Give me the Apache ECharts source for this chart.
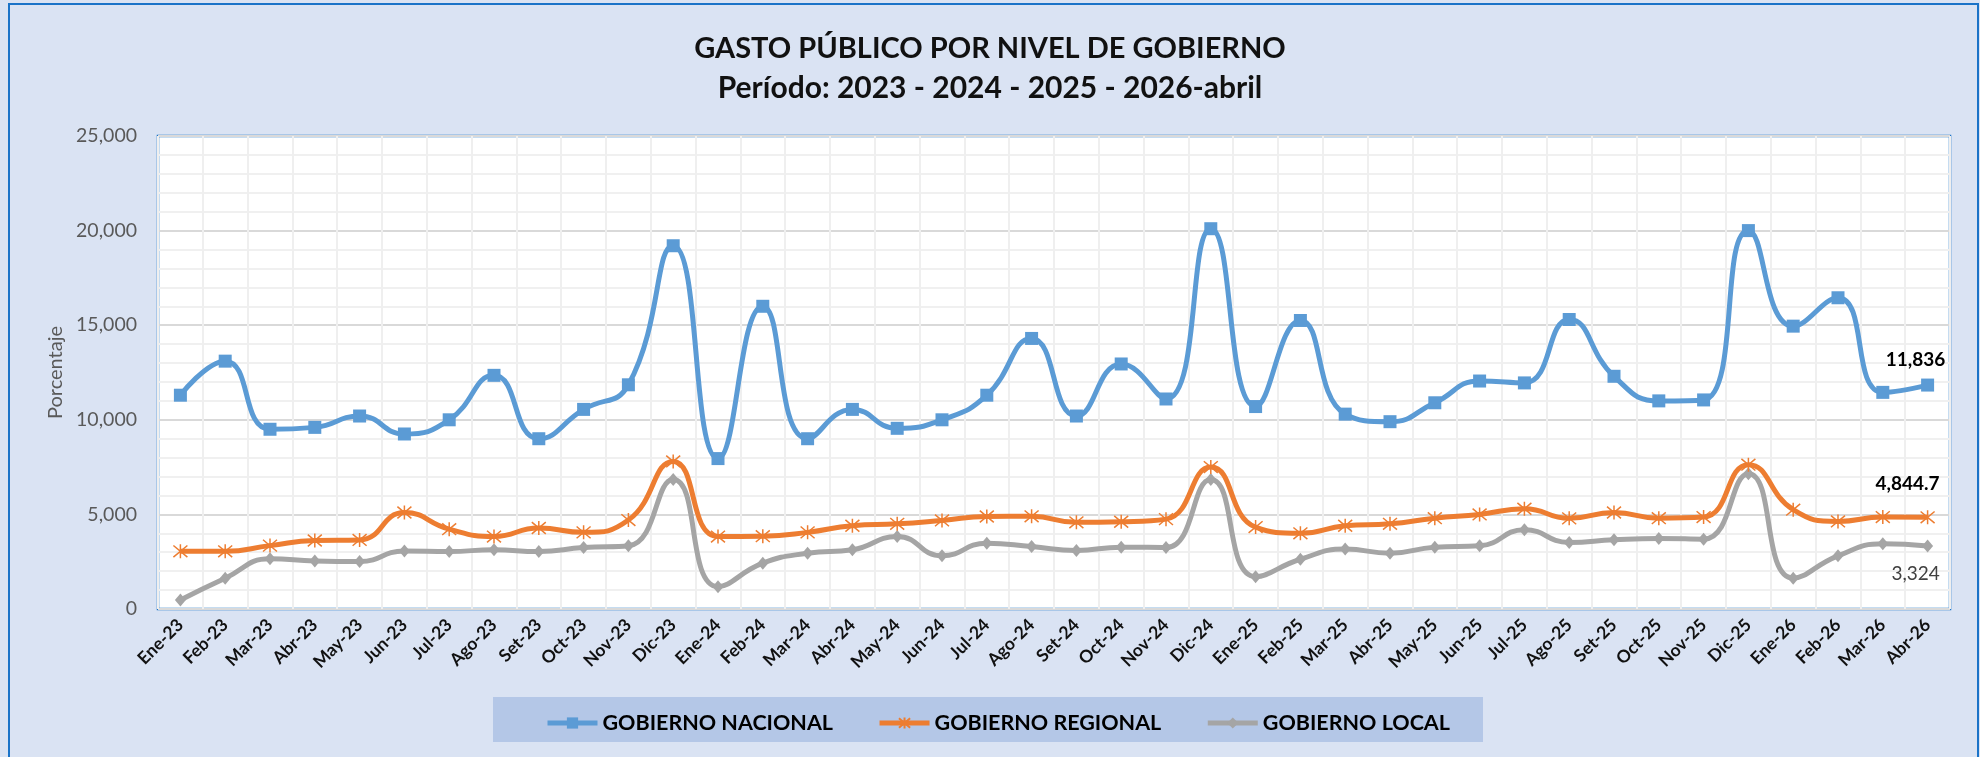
<!DOCTYPE html>
<html>
<head>
<meta charset="utf-8">
<script src="https://cdn.jsdelivr.net/npm/echarts@6/dist/echarts.min.js"></script>
<style>
html,body{margin:0;padding:0;background:#DAE3F3;}
#chart{width:1980px;height:757px;}
</style>
</head>
<body>
<div id="chart"></div>
<script>
const categories = ['Ene-23','Feb-23','Mar-23','Abr-23','May-23','Jun-23','Jul-23','Ago-23','Set-23','Oct-23','Nov-23','Dic-23',
  'Ene-24','Feb-24','Mar-24','Abr-24','May-24','Jun-24','Jul-24','Ago-24','Set-24','Oct-24','Nov-24','Dic-24',
  'Ene-25','Feb-25','Mar-25','Abr-25','May-25','Jun-25','Jul-25','Ago-25','Set-25','Oct-25','Nov-25','Dic-25',
  'Ene-26','Feb-26','Mar-26','Abr-26'];
const nacional = [11300,13100,9500,9600,10200,9250,10000,12350,9000,10550,11850,19200,
  7950,16000,9000,10550,9550,10000,11300,14300,10200,12950,11100,20100,
  10700,15250,10300,9900,10900,12050,11950,15300,12300,11000,11050,20000,
  14950,16450,11450,11836];
const regional = [3050,3050,3350,3620,3650,5100,4220,3830,4280,4050,4700,7800,
  3830,3850,4050,4400,4500,4680,4890,4900,4580,4610,4750,7500,
  4330,4000,4400,4500,4800,5000,5300,4790,5100,4800,4860,7630,
  5250,4630,4860,4844.7];
const local = [480,1630,2650,2540,2510,3070,3040,3130,3040,3250,3340,6840,
  1180,2420,2950,3130,3830,2810,3480,3300,3090,3270,3250,6840,
  1710,2630,3170,2950,3270,3340,4190,3520,3660,3730,3690,7150,
  1630,2810,3450,3324];
const seriesNames = ['GOBIERNO NACIONAL','GOBIERNO REGIONAL','GOBIERNO LOCAL'];
const lastLabels = ['11,836','4,844.7','3,324'];

const FONT = 'Lato';
const fmt = v => v.toString().replace(/\B(?=(\d{3})+(?!\d))/g, ',');

function withLast(arr, labelCfg) {
  return arr.map((v, i) => i === arr.length - 1 ? {value: v, label: labelCfg} : v);
}

const chart = echarts.init(document.getElementById('chart'));
const option = {
  backgroundColor: '#DAE3F3',
  animation: false,
  textStyle: {fontFamily: FONT},
  title: [{
    text: 'GASTO PÚBLICO POR NIVEL DE GOBIERNO',
    left: 'center', top: 29,
    textStyle: {fontFamily: FONT, fontWeight: 'bold', fontSize: 29, color: '#111'}
  }, {
    text: 'Período: 2023 - 2024 - 2025 - 2026-abril',
    left: 'center', top: 68,
    textStyle: {fontFamily: FONT, fontWeight: 'bold', fontSize: 30, color: '#111'}
  }],
  graphic: [{
    type: 'rect', z: -10,
    shape: {x: 9, y: 4, width: 1969, height: 770},
    style: {fill: 'none', stroke: '#1A73C8', lineWidth: 2}
  }, {
    type: 'rect', z: -5,
    shape: {x: 493, y: 697, width: 990, height: 45},
    style: {fill: '#B4C7E7', stroke: null}
  }],
  legend: {
    left: 540, top: 707,
    itemWidth: 50, itemHeight: 14, itemGap: 44,
    lineStyle: {width: 5},
    textStyle: {fontFamily: FONT, fontWeight: 'bold', fontSize: 21.5, color: '#000'},
    data: seriesNames
  },
  grid: {
    left: 158, right: 30, top: 136, bottom: 148,
    show: true, backgroundColor: '#FFFFFF', borderColor: '#1A73C8', borderWidth: 2.5,
    containLabel: false
  },
  xAxis: {
    type: 'category', data: categories, boundaryGap: true,
    axisLine: {show: false}, axisTick: {show: false},
    splitLine: {show: true, interval: 0, lineStyle: {color: '#EFEFEF', width: 2}},
    axisLabel: {rotate: 45, interval: 0, margin: 13, fontFamily: FONT, fontWeight: 'bold', fontSize: 17.5, color: '#111'}
  },
  yAxis: {
    type: 'value', min: 0, max: 25000, interval: 5000,
    name: 'Porcentaje', nameLocation: 'middle', nameRotate: 90, nameGap: 92,
    nameTextStyle: {fontFamily: FONT, fontSize: 20, color: '#595959'},
    axisLine: {show: false}, axisTick: {show: false},
    axisLabel: {margin: 21, fontFamily: FONT, fontSize: 19.5, color: '#595959', formatter: v => fmt(v)},
    splitLine: {show: true, lineStyle: {color: '#D9D9D9', width: 2}},
    minorTick: {show: false, splitNumber: 5},
    minorSplitLine: {show: true, lineStyle: {color: '#F0F0F0', width: 2}}
  },
  series: [{
    name: seriesNames[0], type: 'line', smooth: 0.5,
    data: withLast(nacional, {show: true, position: 'top', distance: 12, offset: [-12, 3], formatter: lastLabels[0], fontFamily: FONT, fontWeight: 'bold', fontSize: 19, color: '#000'}),
    symbol: 'rect', symbolSize: 13,
    lineStyle: {color: '#5B9BD5', width: 5},
    itemStyle: {color: '#5B9BD5'},
    z: 4
  }, {
    name: seriesNames[1], type: 'line', smooth: 0.5,
    data: withLast(regional, {show: true, position: 'top', distance: 18, offset: [-20, 2], formatter: lastLabels[1], fontFamily: FONT, fontWeight: 'bold', fontSize: 19, color: '#000'}),
    symbol: 'path://M0,0L10,10M10,0L0,10M5,-1L5,11', symbolSize: [14, 14],
    lineStyle: {color: '#ED7D31', width: 5},
    itemStyle: {color: '#ED7D31', borderColor: '#ED7D31', borderWidth: 1.5},
    z: 3
  }, {
    name: seriesNames[2], type: 'line', smooth: 0.5,
    data: withLast(local, {show: true, position: 'bottom', distance: 14, offset: [-12, -2], formatter: lastLabels[2], fontFamily: FONT, fontSize: 19, color: '#404040'}),
    symbol: 'diamond', symbolSize: [11, 13],
    lineStyle: {color: '#A5A5A5', width: 5},
    itemStyle: {color: '#A5A5A5'},
    z: 2
  }]
};
chart.setOption(option);
</script>
</body>
</html>
